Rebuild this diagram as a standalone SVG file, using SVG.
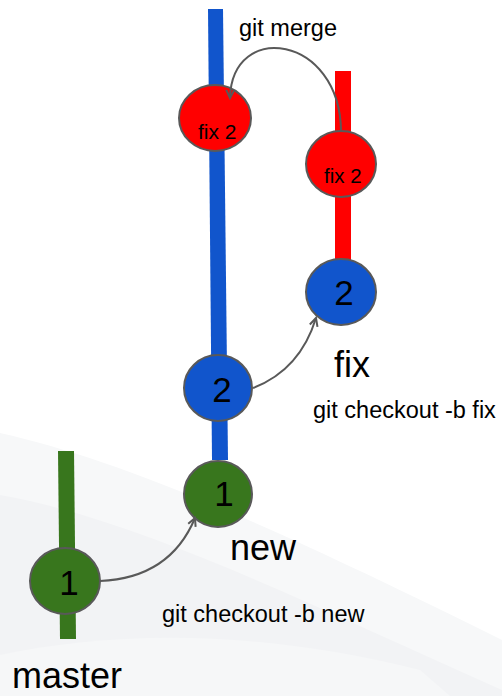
<svg xmlns="http://www.w3.org/2000/svg" width="502" height="696" viewBox="0 0 502 696">
  <style>
    text { font-family: "Liberation Sans", Arial, sans-serif; fill: #000; }
    .commit { stroke: #595959; stroke-width: 2; }
    .blue { fill: #1155cc; }
    .red { fill: #ff0000; }
    .green { fill: #38761d; }
    .num { font-size: 35px; text-anchor: middle; }
    .small { font-size: 21px; }
    .cmd { font-size: 23.5px; }
    .branch { font-size: 36px; }
    .link { fill: none; stroke: #595959; stroke-width: 2; marker-end: url(#arrow); }
  </style>
  <defs>
    <marker id="arrow" viewBox="-10 -6 12 12" markerWidth="12" markerHeight="12" refX="0" refY="0" orient="auto" markerUnits="userSpaceOnUse">
      <path d="M-8,-4 L0,0 L-8,4" fill="none" stroke="#595959" stroke-width="2" stroke-linejoin="miter"/>
    </marker>
  </defs>

  <!-- soft background bands -->
  <rect width="502" height="696" fill="#ffffff"/>
  <path d="M0,433 C120,460 260,520 502,640 L502,696 L0,696 Z" fill="#f7f8f9"/>
  <path d="M0,495 C140,520 300,600 502,690 L502,696 L0,696 Z" fill="#f2f3f5"/>
  <path d="M0,655 C120,630 260,630 420,670 L450,696 L0,696 Z" fill="#f6f7f8"/>

  <!-- branch lines -->
  <g id="branches">
    <polygon id="branch-new" points="208,9 223,9 228,460 212,460" fill="#1155cc"/>
    <rect id="branch-fix" x="335" y="71" width="16" height="190" fill="#ff0000"/>
    <polygon id="branch-master" points="58,451 74,451 76,639 60,639" fill="#38761d"/>
  </g>

  <!-- commits -->
  <g id="commit-merge">
    <ellipse class="commit red" cx="215" cy="118" rx="36" ry="33"/>
    <text class="small" x="198" y="139">fix 2</text>
  </g>
  <g id="commit-fix2">
    <ellipse class="commit red" cx="341" cy="164" rx="35" ry="33"/>
    <text class="small" x="324" y="183" style="font-size:20.5px">fix 2</text>
  </g>
  <g id="commit-fix-2">
    <ellipse class="commit blue" cx="341" cy="292" rx="35" ry="33"/>
    <text class="num" x="344" y="305">2</text>
  </g>
  <g id="commit-new-2">
    <ellipse class="commit blue" cx="218" cy="388" rx="34" ry="33"/>
    <text class="num" x="222" y="402">2</text>
  </g>
  <g id="commit-new-1">
    <ellipse class="commit green" cx="218" cy="494" rx="34" ry="33"/>
    <text class="num" x="224" y="506">1</text>
  </g>
  <g id="commit-master-1">
    <ellipse class="commit green" cx="65" cy="581" rx="35" ry="33"/>
    <text class="num" x="69" y="595">1</text>
  </g>

  <!-- connectors, drawn above the commits -->
  <g id="connectors">
    <path class="link" d="M100,581 Q170,578 195,518"/>
    <path class="link" d="M253,388 Q300,370 316,318"/>
    <path class="link" d="M341,131 C340,35 232,20 230,98"/>
  </g>

  <!-- labels -->
  <g id="labels">
    <text class="cmd" x="239" y="36">git merge</text>
    <text class="branch" x="334" y="377">fix</text>
    <text class="cmd" x="313" y="418">git checkout -b fix</text>
    <text class="branch" x="230" y="560">new</text>
    <text class="cmd" x="162" y="622">git checkout -b new</text>
    <text class="branch" x="12" y="688">master</text>
  </g>
</svg>
